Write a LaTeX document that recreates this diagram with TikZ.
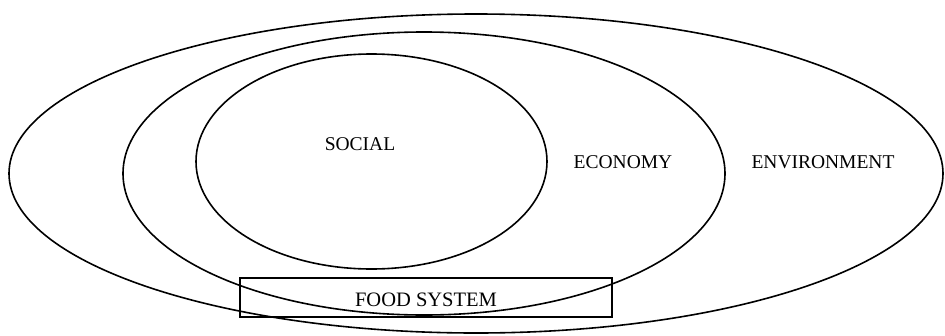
\documentclass[tikz,border=0pt]{standalone}
\usepackage{fontspec}
\setmainfont{Liberation Serif}
\usepackage{tikz}
\def\environmentellipse{(476pt,-173.5pt) ellipse (467pt and 159.5pt)}
\def\economyellipse{(424pt,-173.5pt) ellipse (301pt and 141.5pt)}
\def\socialellipse{(371.5pt,-161.5pt) ellipse (175.5pt and 107.5pt)}
\colorlet{ring edge}{black}
\tikzset{outline/.style={draw=ring edge, line width=1.6pt},
	label/.style={font=\fontsize{19.5}{23}\selectfont, inner sep=0pt}}

\begin{document}
\begin{tikzpicture}
		\useasboundingbox (0,0) rectangle (945pt,-335pt);
		\draw[outline] \environmentellipse;
		\draw[outline] \economyellipse;
		\draw[outline] \socialellipse;
		\node[label] (social) at (360pt,-144pt) {SOCIAL};
		\node[label] (economy) at (623pt,-162pt) {ECONOMY};
		\node[label] (environment) at (823pt,-162pt) {ENVIRONMENT};
		\node[outline, minimum width=372pt, minimum height=39pt, inner sep=0pt] (food) at (426pt,-297.5pt) {};
		\node[label, font=\fontsize{20.5}{24}\selectfont] (foodlabel) at (426pt,-300pt) {FOOD SYSTEM};
		\end{tikzpicture}
\end{document}
